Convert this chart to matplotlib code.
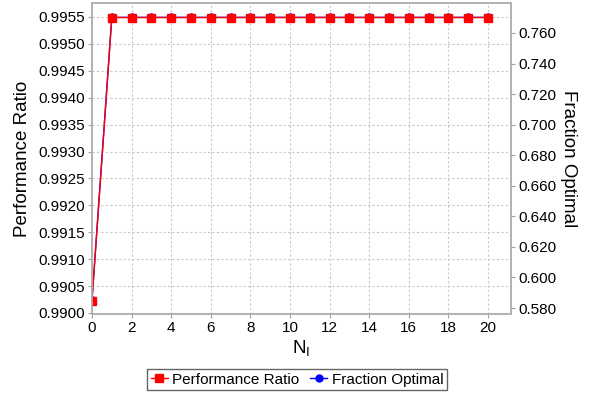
import numpy as np
import matplotlib
matplotlib.use('Agg')
import matplotlib.pyplot as plt
from matplotlib.ticker import FormatStrFormatter

plt.rcParams['font.family'] = ['Liberation Sans', 'DejaVu Sans']

# data
n_i = list(range(0, 21))
perf_ratio = [0.99023] + [0.99549] * 20
frac_opt = [0.5852] + [0.7702] * 20

fig = plt.figure(figsize=(5.92, 4.0), dpi=100)
ax = fig.add_axes([0.1554, 0.215, 0.7078, 0.7775])
ax2 = ax.twinx()

# blue under red
ax2.plot(n_i, frac_opt, color='blue', marker='o', markersize=5, linewidth=1,
         label='Fraction Optimal')
ax.plot(n_i, perf_ratio, color='red', marker='s', markersize=6, linewidth=1,
        label='Performance Ratio')
ax.set_zorder(ax2.get_zorder() + 1)
ax.patch.set_visible(False)

ax.set_xlim(0, 21.16)
ax.set_ylim(0.9900 - 0.00002, 0.99576)
ax2.set_ylim(0.5761, 0.7796)

ax.set_xticks(range(0, 21, 2))
ax.set_yticks(np.arange(0.9900, 0.99551, 0.0005))
ax2.set_yticks(np.arange(0.580, 0.7601, 0.02))
ax.yaxis.set_major_formatter(FormatStrFormatter('%.4f'))
ax2.yaxis.set_major_formatter(FormatStrFormatter('%.3f'))

ax.grid(True, color='#c8c8c8', linestyle=(0, (2, 2)), linewidth=0.8)

for a in (ax, ax2):
    for s in a.spines.values():
        s.set_color('#b0b0b0')
        s.set_linewidth(1.2)
    a.tick_params(labelsize=11, length=3, color='#a0a0a0', pad=2)

ax.set_xlabel('N$_\\mathregular{I}$', fontsize=13.5, labelpad=3)
ax.set_ylabel('Performance Ratio', fontsize=13.5, labelpad=5)
ax2.set_ylabel('Fraction Optimal', fontsize=13.5, rotation=270, labelpad=15)

h1, l1 = ax.get_legend_handles_labels()
h2, l2 = ax2.get_legend_handles_labels()
leg = fig.legend(h1 + h2, l1 + l2, loc='lower center', bbox_to_anchor=(0.502, 0.005),
                 ncol=2, fontsize=11, frameon=True, fancybox=False,
                 handlelength=1.1, handletextpad=0.3, columnspacing=0.7,
                 borderpad=0.25, edgecolor='#404040')
leg.get_frame().set_linewidth(1.0)

fig.savefig('out.png', dpi=100)
